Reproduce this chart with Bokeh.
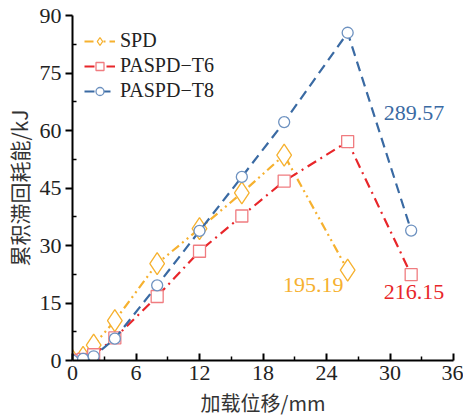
from bokeh.plotting import figure
from bokeh.models import Range1d, FixedTicker, Label, Legend, LegendItem
from bokeh.embed import file_html
from bokeh.resources import INLINE

x_spd = [0, 1, 2, 4, 8, 12, 16, 20, 26]
y_spd = [0, 0.8, 4.0, 10.4, 25.3, 34.4, 43.7, 53.6, 23.6]
x_t6 = [0, 1, 2, 4, 8, 12, 16, 20, 26, 32]
y_t6 = [0, 0.3, 1.5, 5.9, 16.7, 28.5, 37.7, 46.8, 57.1, 22.4]
x_t8 = [0, 1, 2, 4, 8, 12, 16, 20, 26, 32]
y_t8 = [0, 0.4, 1.1, 5.7, 19.6, 33.8, 47.9, 62.2, 85.5, 33.9]
labels = ["SPD", "PASPD\u2212T6", "PASPD\u2212T8"]
totals = ["195.19", "216.15", "289.57"]
x_ticks = [0, 6, 12, 18, 24, 30, 36]
y_ticks = [0, 15, 30, 45, 60, 75, 90]

C_ORANGE = "#F6B12F"
C_RED = "#E8262A"
C_BLUE = "#3A6AA3"
M_RED = "#F07C80"
M_BLUE = "#6E92C0"

FW, FH = 381, 345
p = figure(frame_width=FW, frame_height=FH, output_backend="svg", toolbar_location=None,
           x_range=Range1d(0, 36), y_range=Range1d(0, 90),
           min_border_left=72, min_border_right=10, min_border_top=15, min_border_bottom=56)
p.outline_line_color = None
p.xgrid.visible = False
p.ygrid.visible = False

serif = "Liberation Serif"
for ax in (p.xaxis[0], p.yaxis[0]):
    ax.axis_line_width = 2
    ax.major_tick_line_width = 2
    ax.minor_tick_line_width = 1.5
    ax.major_label_text_font = serif
    ax.major_label_text_font_size = "22px"
    ax.major_label_text_color = "#222222"
    ax.axis_label_text_font = "Noto Sans CJK SC"
    ax.axis_label_text_font_style = "normal"
    ax.axis_label_text_color = "#333333"
p.xaxis.axis_label_text_font_size = "20px"
p.yaxis.axis_label_text_font_size = "21px"

p.xaxis.ticker = FixedTicker(ticks=x_ticks, minor_ticks=[3, 9, 15, 21, 27, 33])
p.yaxis.ticker = FixedTicker(ticks=y_ticks, minor_ticks=[7.5, 22.5, 37.5, 52.5, 67.5, 82.5])
p.xaxis.major_tick_in = 7
p.xaxis.major_tick_out = 0
p.xaxis.minor_tick_in = 4
p.xaxis.minor_tick_out = 0
p.yaxis.major_tick_in = 0
p.yaxis.major_tick_out = 7
p.yaxis.minor_tick_in = 4
p.yaxis.minor_tick_out = 0
p.xaxis.major_label_standoff = 5
p.yaxis.major_label_standoff = 4
p.xaxis.axis_label = "加载位移/mm"
p.yaxis.axis_label = "累积滞回耗能/kJ"
p.xaxis.axis_label_standoff = 5
p.yaxis.axis_label_standoff = 3

l1 = p.line(x_spd, y_spd, line_color=C_ORANGE, line_width=2.2, line_dash="9 4 2 4 2 4")
s1 = p.scatter(x_spd, y_spd, marker="diamond", size=22, line_color=C_ORANGE, fill_color="white", line_width=1.3)
l2 = p.line(x_t6, y_t6, line_color=C_RED, line_width=2.2, line_dash="10 5 2 5")
s2 = p.scatter(x_t6, y_t6, marker="square", size=12, line_color=M_RED, fill_color="white", line_width=1.3)
l3 = p.line(x_t8, y_t8, line_color=C_BLUE, line_width=2.2, line_dash="10 6")
s3 = p.scatter(x_t8, y_t8, marker="circle", size=11, line_color=M_BLUE, fill_color="white", line_width=1.3)

legend = Legend(items=[LegendItem(label=labels[0], renderers=[l1, s1]),
                       LegendItem(label=labels[1], renderers=[l2, s2]),
                       LegendItem(label=labels[2], renderers=[l3, s3])],
                location=(12, FH - 23 - 64), border_line_color=None, background_fill_alpha=0,
                label_text_font=serif, label_text_font_size="20px", label_text_color="#222222",
                label_text_line_height=1.0,
                glyph_width=31, glyph_height=20, spacing=2, padding=0, margin=0,
                label_standoff=5, label_height=20)
p.add_layout(legend)

p.add_layout(Label(x=19.9, y=19.8, text=totals[0], text_color=C_ORANGE, text_font=serif,
                   text_font_size="22px", text_baseline="middle"))
p.add_layout(Label(x=29.4, y=17.8, text=totals[1], text_color=C_RED, text_font=serif,
                   text_font_size="22px", text_baseline="middle"))
p.add_layout(Label(x=29.4, y=64.5, text=totals[2], text_color=C_BLUE, text_font=serif,
                   text_font_size="22px", text_baseline="middle"))

open("out.html", "w").write(file_html(p, INLINE))
